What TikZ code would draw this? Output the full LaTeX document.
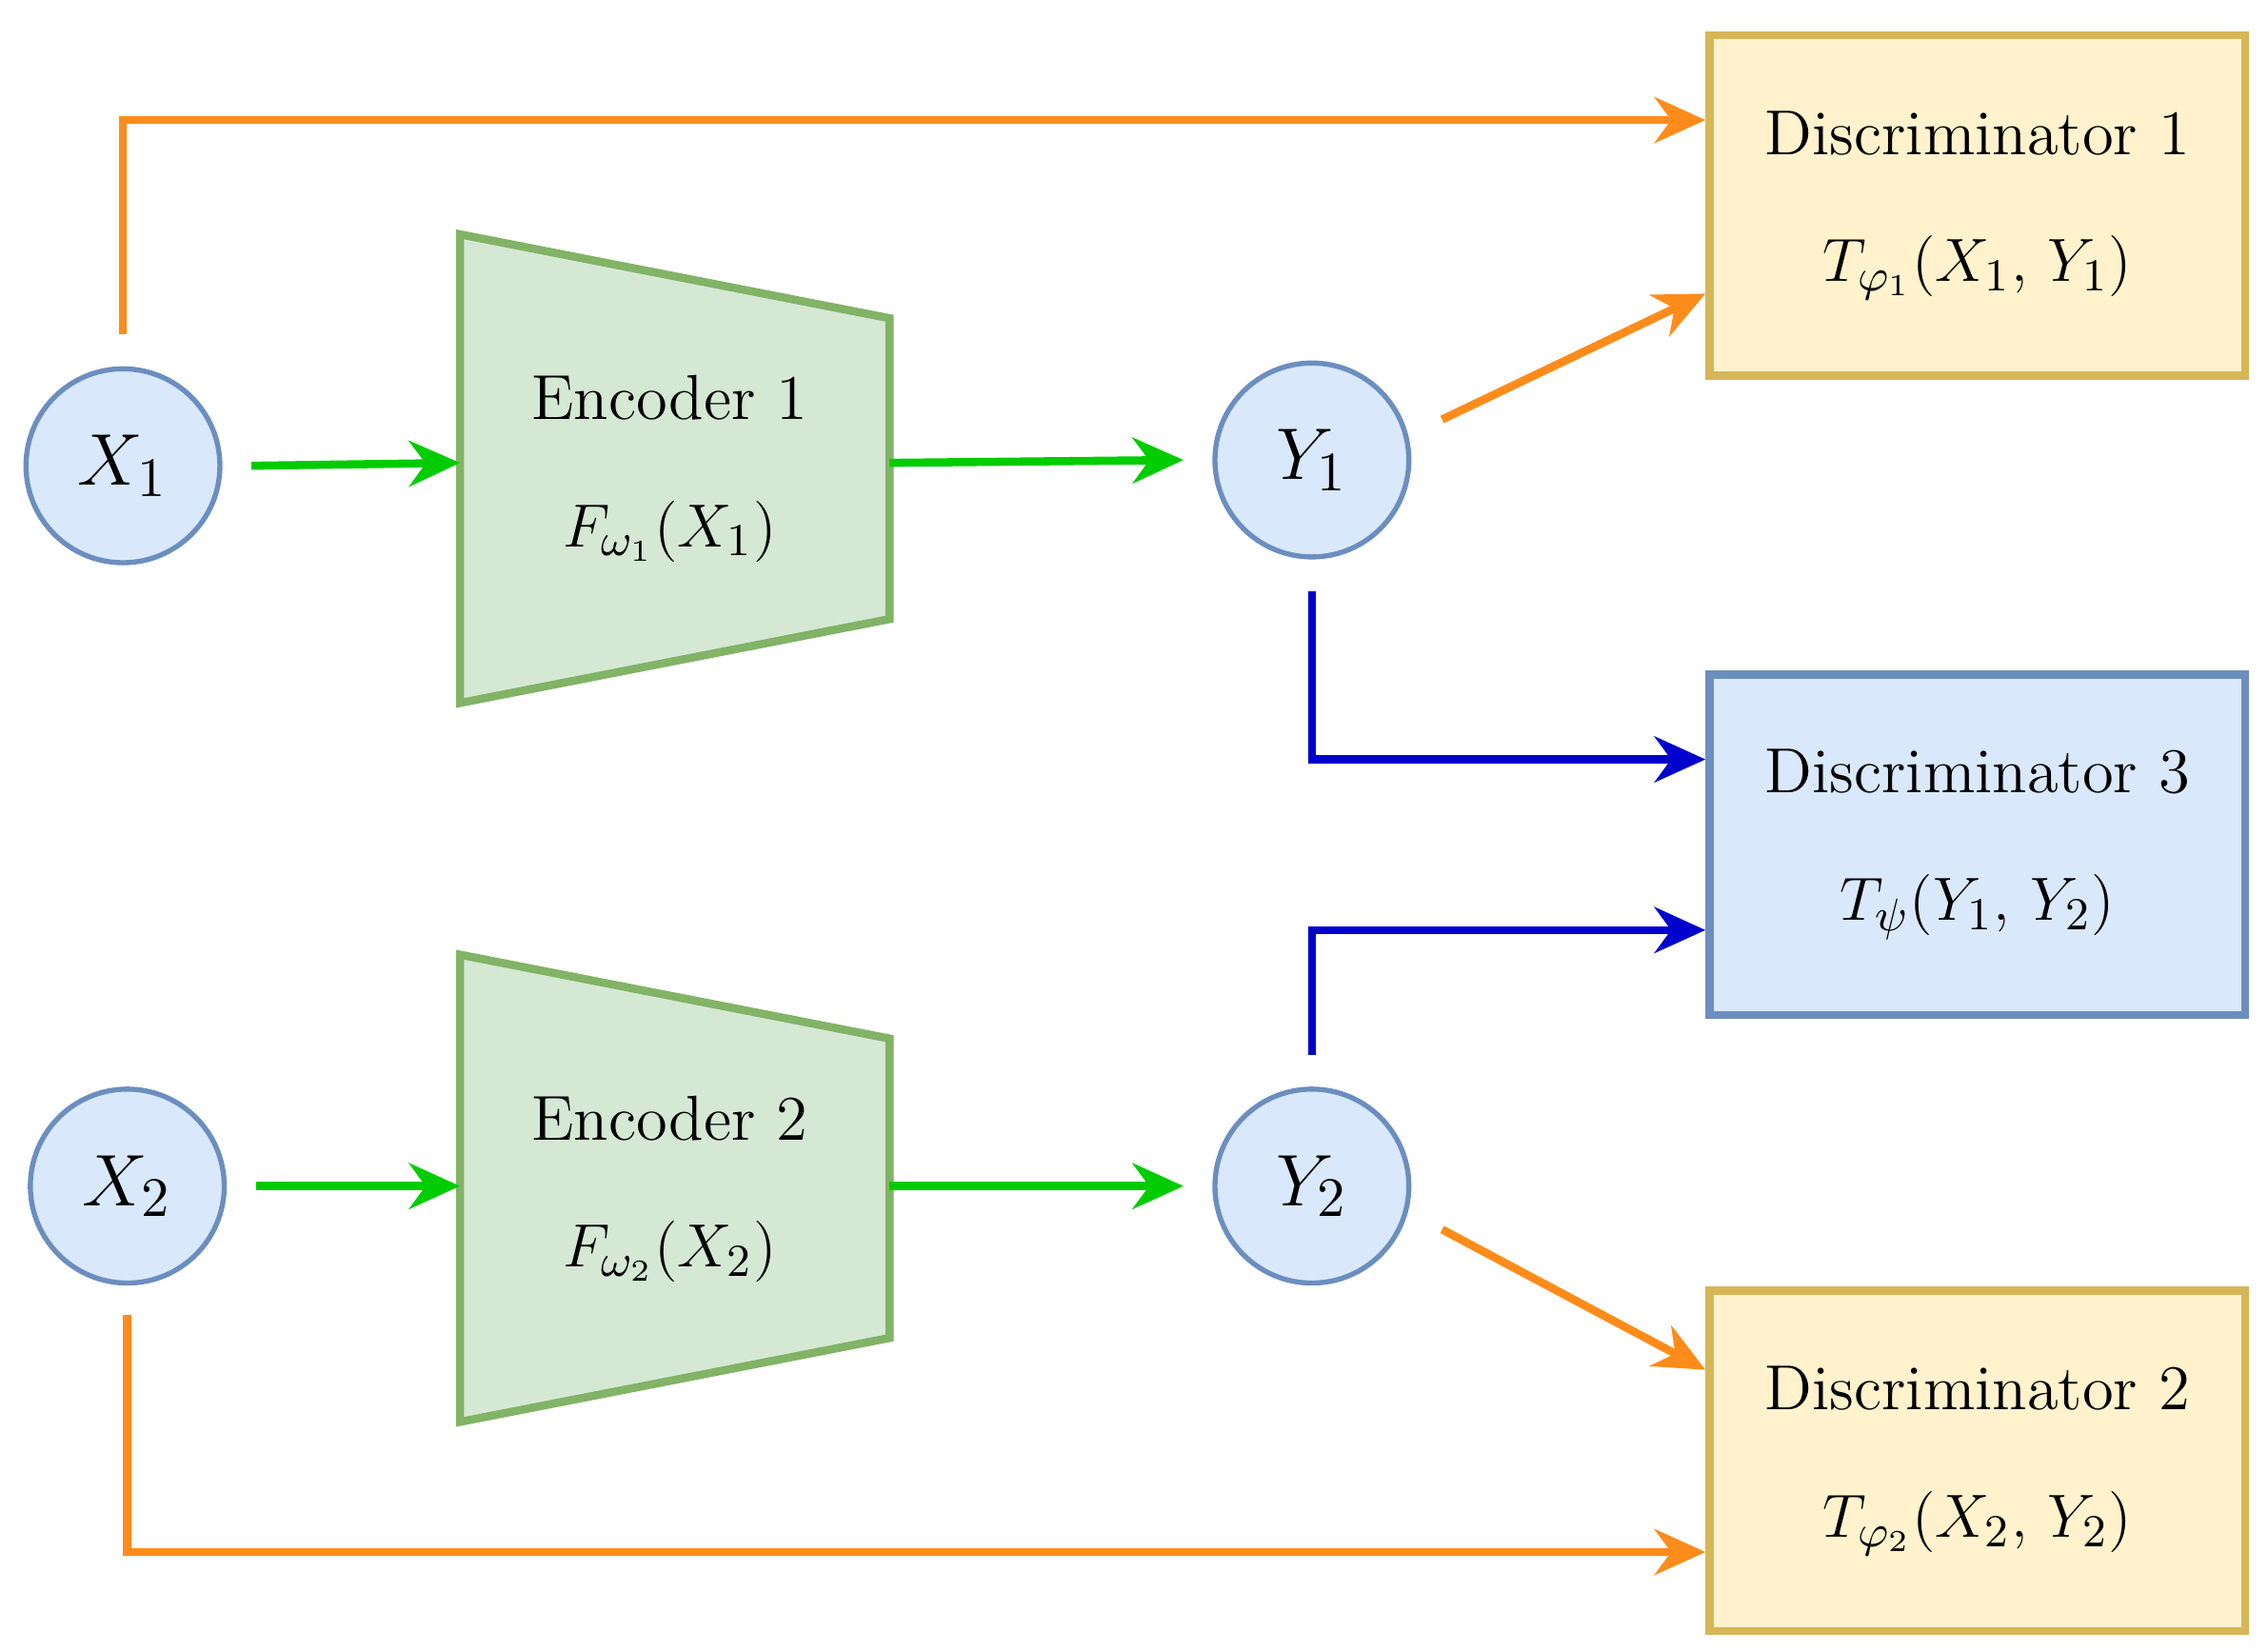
\documentclass[tikz,border=0pt]{standalone}
\usetikzlibrary{arrows.meta}
\definecolor{cfill}{HTML}{DAE8FC}
\definecolor{cdraw}{HTML}{6C8EBF}
\definecolor{efill}{HTML}{D5E8D4}
\definecolor{edraw}{HTML}{82B366}
\definecolor{dfill}{HTML}{FFF2CC}
\definecolor{ddraw}{HTML}{D6B656}
\definecolor{corange}{HTML}{FF8C1A}
\definecolor{cgreen}{HTML}{00CC00}
\definecolor{cblue}{HTML}{0000CC}
\begin{document}
\begin{tikzpicture}[x=0.01cm,y=-0.01cm,
  var/.style={circle,draw=cdraw,fill=cfill,line width=1pt,minimum size=1.34cm,inner sep=0pt,font=\fontsize{15}{18}\selectfont},
  disc/.style={draw=#1,line width=1.6pt,minimum width=3.7cm,minimum height=2.35cm,align=center,font=\fontsize{12.5}{25}\selectfont},
  enc/.style={draw=edraw,fill=efill,line width=1.6pt},
  arr/.style={line width=1.6pt,-{Stealth[length=10pt,width=9pt]}}]
\useasboundingbox (0,0) rectangle (1568,1142);
% circles
\node[var] (x1) at (85,322) {$X_1$};
\node[var] (x2) at (88,820) {$X_2$};
\node[var] (y1) at (907,318) {$Y_1$};
\node[var] (y2) at (907,820) {$Y_2$};
% encoders
\draw[enc] (318,162) -- (615,220) -- (615,428) -- (318,486) -- cycle;
\draw[enc] (318,660) -- (615,718) -- (615,925) -- (318,983) -- cycle;
\node[align=center,font=\fontsize{12.5}{25}\selectfont] (e1) at (463,324) {Encoder 1\\$F_{\omega_1}(X_1)$};
\node[align=center,font=\fontsize{12.5}{25}\selectfont] (e2) at (463,822) {Encoder 2\\$F_{\omega_2}(X_2)$};
\coordinate (e1in) at (318,320); \coordinate (e1out) at (615,320);
\coordinate (e2in) at (318,820); \coordinate (e2out) at (615,820);
% discriminators
\node[disc=ddraw,fill=dfill] (d1) at (1367,142) {Discriminator 1\\$T_{\varphi_1}(X_1,\,Y_1)$};
\node[disc=cdraw,fill=cfill] (d3) at (1367,584) {Discriminator 3\\$T_{\psi}(Y_1,\,Y_2)$};
\node[disc=ddraw,fill=dfill] (d2) at (1367,1010) {Discriminator 2\\$T_{\varphi_2}(X_2,\,Y_2)$};
% connectors
\draw[arr,cgreen] ([xshift=0.2cm]x1.east) -- (e1in);
\draw[arr,cgreen] (e1out) -- ([xshift=-0.2cm]y1.west);
\draw[arr,cgreen] ([xshift=0.2cm]x2.east) -- (e2in);
\draw[arr,cgreen] (e2out) -- ([xshift=-0.2cm]y2.west);
\draw[arr,corange] ([yshift=0.22cm]x1.north) |- (d1.west |- 0,83);
\draw[arr,corange] ([yshift=-0.2cm]x2.south) |- (d2.west |- 0,1073);
\draw[arr,corange] (997,290) -- (d1.west |- 0,203);
\draw[arr,corange] (997,850) -- (d2.west |- 0,947);
\draw[arr,cblue] ([yshift=-0.22cm]y1.south) |- (d3.west |- 0,525);
\draw[arr,cblue] ([yshift=0.22cm]y2.north) |- (d3.west |- 0,643);
\end{tikzpicture}
\end{document}
